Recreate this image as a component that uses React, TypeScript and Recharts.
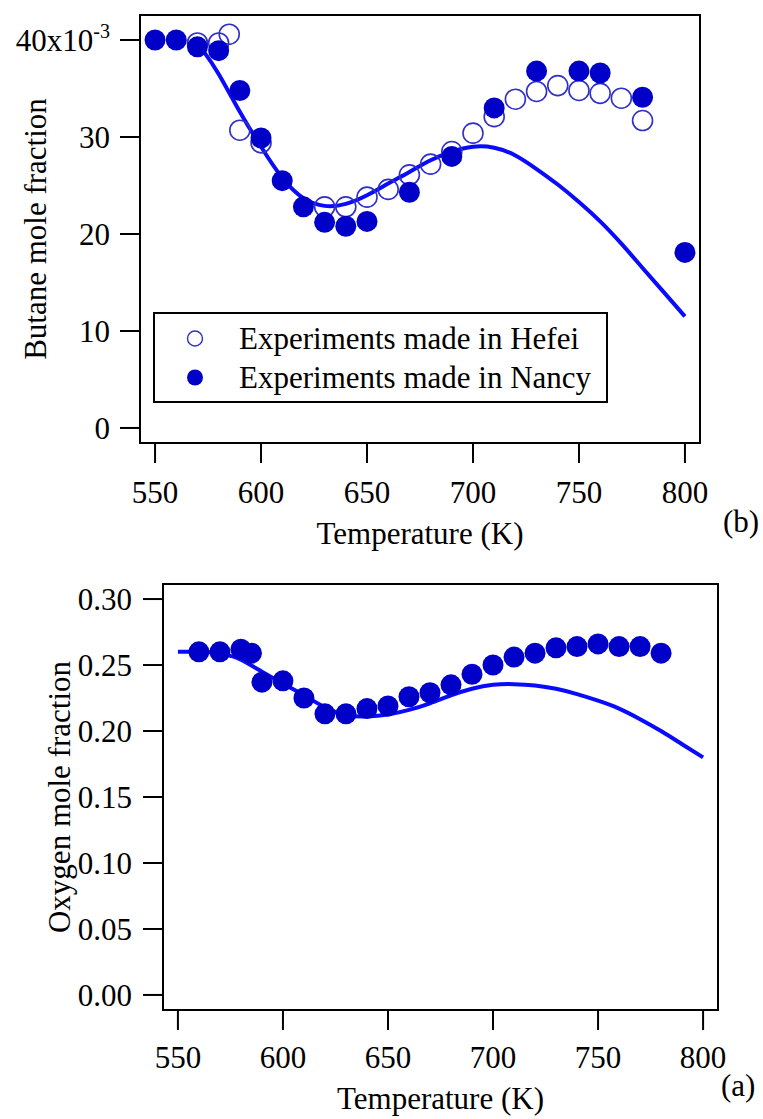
import React from 'react';
import {
  ComposedChart, Scatter, Line, XAxis, YAxis, ReferenceArea, Legend, Label
} from 'recharts';

// Butane mole fraction (x10^-3) vs temperature
const hefeiButane = [
  { t: 570, v: 39.7 }, { t: 580, v: 39.7 }, { t: 585, v: 40.6 }, { t: 590, v: 30.7 },
  { t: 600, v: 29.4 }, { t: 630, v: 22.8 }, { t: 640, v: 22.8 }, { t: 650, v: 23.8 },
  { t: 660, v: 24.6 }, { t: 670, v: 26.1 }, { t: 680, v: 27.2 }, { t: 690, v: 28.5 },
  { t: 700, v: 30.4 }, { t: 710, v: 32.1 }, { t: 720, v: 33.9 }, { t: 730, v: 34.7 },
  { t: 740, v: 35.3 }, { t: 750, v: 34.8 }, { t: 760, v: 34.5 }, { t: 770, v: 34.0 },
  { t: 780, v: 31.7 },
];

const nancyButane = [
  { t: 550, v: 40.0 }, { t: 560, v: 40.0 }, { t: 570, v: 39.3 }, { t: 580, v: 38.9 },
  { t: 590, v: 34.8 }, { t: 600, v: 29.9 }, { t: 610, v: 25.5 }, { t: 620, v: 22.8 },
  { t: 630, v: 21.2 }, { t: 640, v: 20.8 }, { t: 650, v: 21.3 }, { t: 670, v: 24.3 },
  { t: 690, v: 28.0 }, { t: 710, v: 33.0 }, { t: 730, v: 36.8 }, { t: 750, v: 36.8 },
  { t: 760, v: 36.6 }, { t: 780, v: 34.1 }, { t: 800, v: 18.1 },
];

const modelButane = [
  { t: 573, v: 38.8 }, { t: 580, v: 36.5 }, { t: 590, v: 32.6 }, { t: 600, v: 29.0 },
  { t: 610, v: 25.8 }, { t: 620, v: 23.7 }, { t: 630, v: 22.9 }, { t: 640, v: 23.1 },
  { t: 650, v: 24.0 }, { t: 660, v: 25.2 }, { t: 670, v: 26.4 }, { t: 680, v: 27.6 },
  { t: 690, v: 28.5 }, { t: 700, v: 29.0 }, { t: 710, v: 28.9 }, { t: 720, v: 28.1 },
  { t: 730, v: 26.7 }, { t: 740, v: 25.1 }, { t: 750, v: 23.3 }, { t: 760, v: 21.3 },
  { t: 770, v: 19.0 }, { t: 780, v: 16.5 }, { t: 790, v: 14.0 }, { t: 800, v: 11.5 },
];

// Oxygen mole fraction vs temperature
const nancyOxygen = [
  { t: 560, v: 0.260 }, { t: 570, v: 0.260 }, { t: 580, v: 0.262 }, { t: 585, v: 0.259 },
  { t: 590, v: 0.237 }, { t: 600, v: 0.238 }, { t: 610, v: 0.225 }, { t: 620, v: 0.213 },
  { t: 630, v: 0.213 }, { t: 640, v: 0.217 }, { t: 650, v: 0.219 }, { t: 660, v: 0.226 },
  { t: 670, v: 0.229 }, { t: 680, v: 0.235 }, { t: 690, v: 0.243 }, { t: 700, v: 0.250 },
  { t: 710, v: 0.256 }, { t: 720, v: 0.259 }, { t: 730, v: 0.263 }, { t: 740, v: 0.264 },
  { t: 750, v: 0.266 }, { t: 760, v: 0.264 }, { t: 770, v: 0.264 }, { t: 780, v: 0.259 },
];

const modelOxygen = [
  { t: 550, v: 0.260 }, { t: 560, v: 0.260 }, { t: 570, v: 0.259 }, { t: 575, v: 0.257 },
  { t: 580, v: 0.254 }, { t: 590, v: 0.245 }, { t: 600, v: 0.236 }, { t: 610, v: 0.227 },
  { t: 620, v: 0.218 }, { t: 630, v: 0.212 }, { t: 640, v: 0.211 }, { t: 650, v: 0.2125 },
  { t: 660, v: 0.216 }, { t: 670, v: 0.221 }, { t: 680, v: 0.227 }, { t: 690, v: 0.232 },
  { t: 700, v: 0.235 }, { t: 710, v: 0.2355 }, { t: 720, v: 0.2345 }, { t: 730, v: 0.232 },
  { t: 740, v: 0.228 }, { t: 750, v: 0.223 }, { t: 760, v: 0.217 }, { t: 770, v: 0.209 },
  { t: 780, v: 0.200 }, { t: 790, v: 0.190 }, { t: 800, v: 0.180 },
];

const tempTicks = [550, 600, 650, 700, 750, 800];
const butaneTicks = [0, 10, 20, 30, 40];
const oxygenTicks = [0, 0.05, 0.1, 0.15, 0.2, 0.25, 0.3];

const FONT = "'Liberation Serif', 'Times New Roman', serif";
const FS = 31;
const DOT = '#0000c8';
const OPEN = '#3030c8';
const LINE = '#0a0aff';

const filledDot = (p: any) => <circle cx={p.cx} cy={p.cy} r={10.5} fill={DOT} />;
const openDot = (p: any) => (
  <circle cx={p.cx} cy={p.cy} r={10} fill="none" stroke={OPEN} strokeWidth={1.6} />
);

const ButaneTick = (p: any) => {
  const v = p.payload.value;
  return (
    <text x={p.x} y={p.y} dy="0.35em" textAnchor="end" fontFamily={FONT} fontSize={FS} fill="#000">
      {v === 40 ? (
        <>
          <tspan>40x10</tspan>
          <tspan dy={-13} fontSize={20}>-3</tspan>
        </>
      ) : (
        v
      )}
    </text>
  );
};

const legendMarks: Record<string, boolean> = {
  'Experiments made in Hefei': false,
  'Experiments made in Nancy': true,
};

const LegendBox = (props: any) => {
  const items = (props.payload || []).filter((e: any) => e.value in legendMarks);
  return (
    <div style={{ boxSizing: 'border-box', width: '100%', height: '100%', border: '2px solid #000', paddingTop: 5, background: '#fff' }}>
      {items.map((e: any) => (
        <div key={e.value} style={{ display: 'flex', alignItems: 'center', height: 39, fontFamily: FONT, fontSize: FS, lineHeight: '39px' }}>
          <svg width={84} height={39}>
            {legendMarks[e.value] ? (
              <circle cx={40} cy={19.5} r={8} fill={DOT} />
            ) : (
              <circle cx={40} cy={19.5} r={7.5} fill="none" stroke={OPEN} strokeWidth={1.4} />
            )}
          </svg>
          <span>{e.value}</span>
        </div>
      ))}
    </div>
  );
};

const axisCommon = {
  tickSize: 20,
  axisLine: false,
  tickLine: { stroke: '#000', strokeWidth: 2 },
  tick: { fontFamily: FONT, fontSize: FS, fill: '#000' },
  allowDataOverflow: true,
};

const App: React.FC = () => {
  const tX: [number, number] = [542.9, 807.1];
  const bY: [number, number] = [-1.55, 42.58];
  const oY: [number, number] = [-0.0114, 0.3114];

  return (
    <div style={{ position: 'absolute', left: 0, top: 0, width: 763, height: 1119, background: '#fff', fontFamily: FONT }}>
      {/* (b) butane */}
      <div style={{ position: 'absolute', left: 0, top: 0 }}>
        <ComposedChart width={763} height={560} margin={{ top: 15, right: 63, bottom: 7, left: 0 }}>
          <XAxis {...axisCommon} type="number" dataKey="t" domain={tX} ticks={tempTicks} height={110} tickMargin={18}>
            <Label value="Temperature (K)" position="insideBottom" offset={9} style={{ fontFamily: FONT, fontSize: FS, fill: '#000' }} />
          </XAxis>
          <YAxis {...axisCommon} type="number" dataKey="v" domain={bY} ticks={butaneTicks} width={140} tickMargin={10} tick={<ButaneTick />}>
            <Label value="Butane mole fraction" angle={-90} position="insideLeft" offset={35}
              style={{ fontFamily: FONT, fontSize: FS, fill: '#000', textAnchor: 'middle' }} />
          </YAxis>
          <ReferenceArea x1={tX[0]} x2={tX[1]} y1={bY[0]} y2={bY[1]} fill="none" stroke="#000" strokeWidth={2} fillOpacity={0} strokeOpacity={1} />
          <Scatter name="Experiments made in Hefei" data={hefeiButane} dataKey="v" fill={OPEN} shape={openDot} isAnimationActive={false} />
          <Scatter name="Experiments made in Nancy" data={nancyButane} dataKey="v" fill={DOT} shape={filledDot} isAnimationActive={false} />
          <Line data={modelButane} dataKey="v" type="natural" stroke={LINE} strokeWidth={4} dot={false} legendType="none" isAnimationActive={false} />
          <Legend layout="vertical" align="center" verticalAlign="middle" content={<LegendBox />}
            wrapperStyle={{ left: 153, top: 312, width: 455, height: 91 }} />
        </ComposedChart>
        <div style={{ position: 'absolute', left: 723, top: 506, fontSize: FS, lineHeight: '31px' }}>(b)</div>
      </div>

      {/* (a) oxygen */}
      <div style={{ position: 'absolute', left: 0, top: 560 }}>
        <ComposedChart width={763} height={559} margin={{ top: 24, right: 45, bottom: 4, left: 0 }}>
          <XAxis {...axisCommon} type="number" dataKey="t" domain={tX} ticks={tempTicks} height={105} tickMargin={16}>
            <Label value="Temperature (K)" position="insideBottom" offset={6} style={{ fontFamily: FONT, fontSize: FS, fill: '#000' }} />
          </XAxis>
          <YAxis {...axisCommon} type="number" dataKey="v" domain={oY} ticks={oxygenTicks} width={163} tickMargin={11}
            tickFormatter={(v: number) => v.toFixed(2)}>
            <Label value="Oxygen mole fraction" angle={-90} position="insideLeft" offset={59}
              style={{ fontFamily: FONT, fontSize: FS, fill: '#000', textAnchor: 'middle' }} />
          </YAxis>
          <ReferenceArea x1={tX[0]} x2={tX[1]} y1={oY[0]} y2={oY[1]} fill="none" stroke="#000" strokeWidth={2} fillOpacity={0} strokeOpacity={1} />
          <Scatter name="Experiments made in Nancy" data={nancyOxygen} dataKey="v" fill={DOT} shape={filledDot} isAnimationActive={false} />
          <Line data={modelOxygen} dataKey="v" type="natural" stroke={LINE} strokeWidth={4} dot={false} isAnimationActive={false} />
        </ComposedChart>
        <div style={{ position: 'absolute', left: 721, top: 510, fontSize: FS, lineHeight: '31px' }}>(a)</div>
      </div>
    </div>
  );
};

export default App;
